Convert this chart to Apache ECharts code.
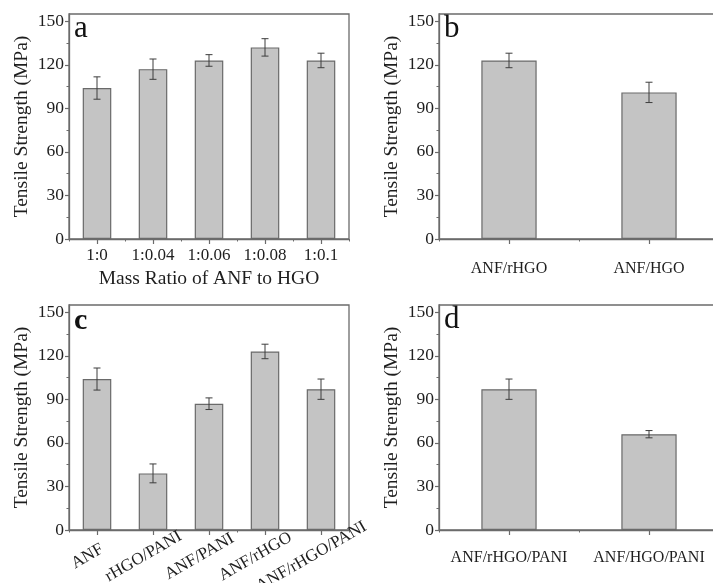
<!DOCTYPE html>
<html>
<head>
<meta charset="utf-8">
<script src="https://cdn.jsdelivr.net/npm/echarts@6.0.0/dist/echarts.min.js"></script>
<style>
  html, body { margin: 0; padding: 0; background: #fff; }
  #chart { width: 713px; height: 583px; }
</style>
</head>
<body>
<div id="chart"></div>
<script>
// tick values shared by all four panels
const yTicks = [0, 30, 60, 90, 120, 150];
const yMinorTicks = [15, 45, 75, 105, 135];

// a: mass ratio series
const catsA = ['1:0', '1:0.04', '1:0.06', '1:0.08', '1:0.1'];
const valsA = [104, 117, 123, 132, 123];
const errA = [7.7, 7, 4, 6, 5];

// b
const catsB = ['ANF/rHGO', 'ANF/HGO'];
const valsB = [123, 101];
const errB = [5, 7];

// c
const catsC = ['ANF', 'rHGO/PANI', 'ANF/PANI', 'ANF/rHGO', 'ANF/rHGO/PANI'];
const valsC = [104, 39, 87, 123, 97];
const errC = [7.6, 6.5, 4, 5, 7];

// d
const catsD = ['ANF/rHGO/PANI', 'ANF/HGO/PANI'];
const valsD = [97, 66];
const errD = [7, 2.5];

const FONT = '"Liberation Serif", "Times New Roman", serif';
const AXIS_COLOR = '#6b6b6b';
const TEXT_COLOR = '#1e1e1e';

const panels = [
    { cats: catsA, vals: valsA, err: errA, left: 69, top: 14, barWidth: '51%', xName: 'Mass Ratio of ANF to HGO', labelMargin: 8, rotate: 0, letter: 'a' },
    { cats: catsB, vals: valsB, err: errB, left: 439, top: 14, barWidth: '39.5%', xName: '', labelMargin: 22, rotate: 0, letter: 'b' },
    { cats: catsC, vals: valsC, err: errC, left: 69, top: 305, barWidth: '51%', xName: '', labelMargin: 21, rotate: 30, letter: 'c' },
    { cats: catsD, vals: valsD, err: errD, left: 439, top: 305, barWidth: '39.5%', xName: '', labelMargin: 20, rotate: 0, letter: 'd' }
];

function renderErr(params, api) {
    const x = api.value(0);
    const lo = api.coord([x, api.value(1)]);
    const hi = api.coord([x, api.value(2)]);
    const w = 3.5;
    const style = { stroke: '#3d3d3d', lineWidth: 1 };
    return {
        type: 'group',
        children: [
            { type: 'line', shape: { x1: hi[0], y1: hi[1], x2: lo[0], y2: lo[1] }, style: style },
            { type: 'line', shape: { x1: hi[0] - w, y1: hi[1], x2: hi[0] + w, y2: hi[1] }, style: style },
            { type: 'line', shape: { x1: lo[0] - w, y1: lo[1], x2: lo[0] + w, y2: lo[1] }, style: style }
        ]
    };
}

const grid = [], xAxis = [], yAxis = [], series = [], graphic = [];

panels.forEach((p, i) => {
    grid.push({
        left: p.left, top: p.top, width: 280, height: 225,
        outerBoundsMode: 'none', containLabel: false,
        show: true, borderColor: AXIS_COLOR, borderWidth: 1.3, backgroundColor: 'transparent'
    });
    const label = {
        fontFamily: FONT, fontSize: p.rotate ? 17 : (p.cats.length > 2 ? 17 : 16), color: TEXT_COLOR,
        margin: p.labelMargin, rotate: p.rotate, interval: 0
    };
    if (p.rotate) {
        // slanted labels are centred a little left of their tick
        label.align = 'center';
        label.verticalAlign = 'middle';
        label.padding = [0, 22, 0, 0];
    }
    // main x axis: ticks at category centres
    xAxis.push({
        type: 'category', gridIndex: i, data: p.cats, position: 'bottom',
        name: p.xName, nameLocation: 'middle', nameGap: 30,
        nameTextStyle: { fontFamily: FONT, fontSize: 19.5, color: TEXT_COLOR },
        axisLine: { show: true, lineStyle: { color: AXIS_COLOR, width: 1.3 } },
        axisTick: { show: true, alignWithLabel: true, length: 5, lineStyle: { color: AXIS_COLOR, width: 1.2 } },
        axisLabel: label
    });
    // minor x ticks at category boundaries
    xAxis.push({
        type: 'category', gridIndex: i, data: p.cats, position: 'bottom',
        axisLine: { show: false },
        axisTick: { show: true, alignWithLabel: false, length: 2.5, lineStyle: { color: AXIS_COLOR, width: 1 } },
        axisLabel: { show: false }
    });
    yAxis.push({
        type: 'value', gridIndex: i, min: 0, max: 155, position: 'left',
        name: 'Tensile Strength (MPa)', nameLocation: 'middle', nameGap: 37,
        nameTextStyle: { fontFamily: FONT, fontSize: 19.5, color: TEXT_COLOR },
        splitLine: { show: false },
        axisLine: { show: true, lineStyle: { color: AXIS_COLOR, width: 1.3 } },
        axisTick: { show: true, customValues: yTicks, length: 4, lineStyle: { color: AXIS_COLOR, width: 1.2 } },
        axisLabel: { customValues: yTicks, fontFamily: FONT, fontSize: 17.5, color: TEXT_COLOR, margin: 5 }
    });
    // minor y ticks
    yAxis.push({
        type: 'value', gridIndex: i, min: 0, max: 155, position: 'left', offset: 0,
        splitLine: { show: false },
        axisLine: { show: false },
        axisTick: { show: true, customValues: yMinorTicks, length: 2.5, lineStyle: { color: AXIS_COLOR, width: 1 } },
        axisLabel: { show: false }
    });
    series.push({
        type: 'bar', xAxisIndex: i * 2, yAxisIndex: i * 2,
        data: p.vals, barWidth: p.barWidth,
        itemStyle: { color: '#c4c4c4', borderColor: '#6a6a6a', borderWidth: 1.2 },
        silent: true, animation: false
    });
    series.push({
        type: 'custom', xAxisIndex: i * 2, yAxisIndex: i * 2,
        renderItem: renderErr,
        encode: { x: 0, y: [1, 2] },
        data: p.vals.map((v, k) => [k, v - p.err[k], v + p.err[k]]),
        z: 5, silent: true, animation: false
    });
    graphic.push({
        type: 'text', left: p.left + 5, top: p.letter === 'c' ? p.top + 1 : p.top - 1,
        style: {
            text: p.letter, fontFamily: FONT, fontSize: p.letter === 'c' ? 30 : 31,
            fontWeight: p.letter === 'c' ? 'bold' : 'normal', fill: '#111'
        }
    });
});

const chart = echarts.init(document.getElementById('chart'));
chart.setOption({
    animation: false,
    grid: grid,
    xAxis: xAxis,
    yAxis: yAxis,
    series: series,
    graphic: graphic
});
</script>
</body>
</html>
